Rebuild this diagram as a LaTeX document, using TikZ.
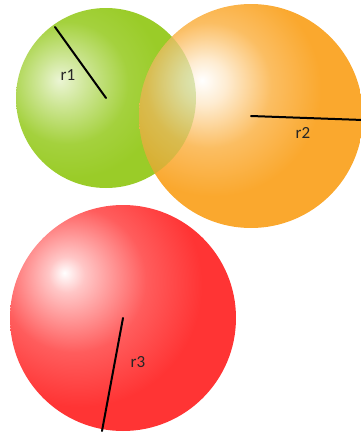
\documentclass[tikz,border=0pt]{standalone}
\usepackage{fontspec}
\setmainfont{Carlito}
\usetikzlibrary{calc}
\definecolor{ballG}{RGB}{154,204,40}
\definecolor{ballO}{RGB}{250,168,46}
\definecolor{ballR}{RGB}{255,52,52}
\pgfdeclareradialshading{shadeG}{\pgfpoint{-13bp}{5bp}}{color(0bp)=(ballG!20!white); color(7bp)=(ballG!50!white); color(17bp)=(ballG!90!white); color(26bp)=(ballG); color(100bp)=(ballG)}
\pgfdeclareradialshading{shadeO}{\pgfpoint{-11bp}{8bp}}{color(0bp)=(white); color(5bp)=(ballO!22!white); color(14bp)=(ballO!75!white); color(24bp)=(ballO); color(100bp)=(ballO)}
\pgfdeclareradialshading{shadeR}{\pgfpoint{-13bp}{10bp}}{color(0bp)=(white); color(4bp)=(ballR!28!white); color(16bp)=(ballR!80!white); color(27bp)=(ballR); color(100bp)=(ballR)}

\begin{document}
\begin{tikzpicture}[x=1pt, y=-1pt,
    rline/.style={line width=2pt, line cap=round, black},
    rlabel/.style={font=\fontsize{17}{20}\selectfont, text=black!85, inner sep=0pt}]
  \useasboundingbox (0,0) rectangle (361,432);
  % Green sphere
  \coordinate (c1) at (106,98);
  \coordinate (e1) at (55,27);
  \shade[shading=shadeG] (c1) circle[radius=90];
  % Orange sphere, green shows through it
  \coordinate (c2) at (251,116);
  \coordinate (e2) at (363,120);
  \shade[shading=shadeO] (c2) circle[radius=112];
  \begin{scope}
    \clip (c2) circle[radius=112];
    \fill[ballG!90!black, opacity=0.3] (c1) circle[radius=90];
  \end{scope}
  % Red sphere
  \coordinate (c3) at (123,318);
  \coordinate (e3) at (102,431);
  \shade[shading=shadeR] (c3) circle[radius=113];
  % Radii
  \draw[rline] (c1) -- (e1);
  \draw[rline] (c2) -- (e2);
  \draw[rline] (c3) -- (e3);
  \node[rlabel] (r1) at (68,75) {r1};
  \node[rlabel] (r2) at (303,133) {r2};
  \node[rlabel] (r3) at (138,362) {r3};
\end{tikzpicture}
\end{document}
